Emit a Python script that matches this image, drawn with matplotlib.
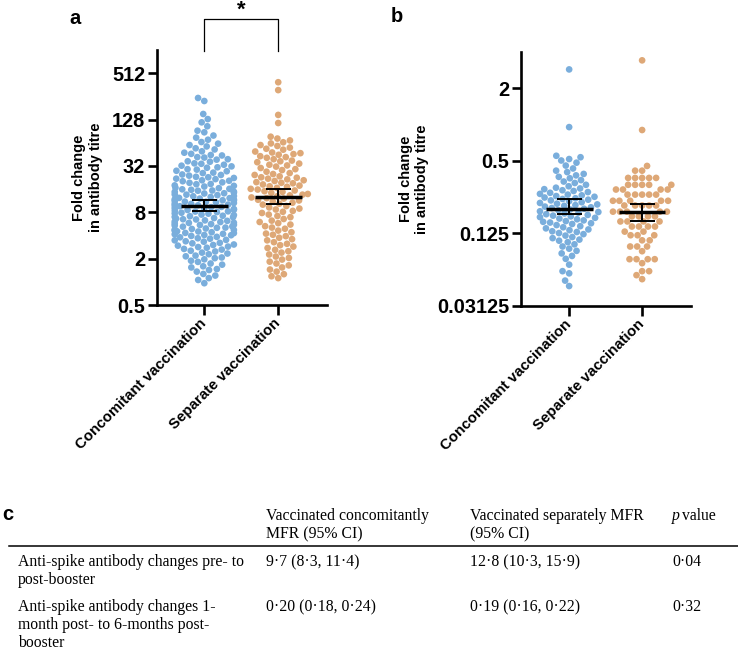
import numpy as np
import matplotlib
matplotlib.use("Agg")
import matplotlib.pyplot as plt
from matplotlib.lines import Line2D
import seaborn as sns

groups = ["Concomitant vaccination", "Separate vaccination"]
colors = ["#7AAEDC", "#DEA877"]

# fold change pre- to post-booster (panel a), log2 units
conc_pre_post_log2 = [
    7.93, 7.80, 7.24, 7.02, 6.88, 6.71, 6.52, 6.45, 6.31, 6.22, 6.13, 6.03,
    5.96, 5.90, 5.84, 5.76, 5.71, 5.63, 5.57, 5.52,
    5.47, 5.45, 5.38, 5.36, 5.29, 5.27, 5.20, 5.18, 5.11, 5.09, 5.05, 5.01,
    4.98, 4.94, 4.92, 4.86, 4.84, 4.79, 4.77, 4.71, 4.69, 4.63, 4.61, 4.58, 4.53, 4.51,
    4.48, 4.45, 4.43, 4.38, 4.36, 4.34, 4.29, 4.27, 4.22, 4.21, 4.16, 4.14, 4.11, 4.06, 4.04, 4.01,
    3.99, 3.97, 3.94, 3.93, 3.89, 3.88, 3.85, 3.82, 3.81, 3.77, 3.76, 3.74, 3.70, 3.69,
    3.66, 3.62, 3.61, 3.59, 3.56, 3.55, 3.52, 3.51,
    3.49, 3.46, 3.45, 3.43, 3.40, 3.37, 3.36, 3.33, 3.30, 3.29, 3.26, 3.23, 3.22, 3.18,
    3.17, 3.14, 3.11, 3.10, 3.07, 3.04, 3.03, 3.01,
    2.98, 2.95, 2.94, 2.90, 2.88, 2.85, 2.83, 2.80, 2.79, 2.75, 2.73, 2.70, 2.69, 2.65,
    2.63, 2.60, 2.58, 2.55, 2.54, 2.51,
    2.49, 2.46, 2.45, 2.43, 2.39, 2.38, 2.34, 2.33, 2.30, 2.28, 2.25, 2.24, 2.21, 2.18,
    2.17, 2.14, 2.11, 2.10, 2.07, 2.05, 2.02, 2.01,
    1.98, 1.94, 1.92, 1.88, 1.86, 1.81, 1.79, 1.75, 1.73, 1.68, 1.66, 1.61, 1.59, 1.56, 1.52, 1.50,
    1.47, 1.42, 1.39, 1.34, 1.31, 1.26, 1.22, 1.19, 1.13, 1.10, 1.05, 1.02,
    0.97, 0.91, 0.86, 0.79, 0.74, 0.67, 0.62, 0.55, 0.51,
    0.44, 0.34, 0.27, 0.16, 0.08, -0.06,
]
sep_pre_post_log2 = [
    8.61, 8.27, 7.20, 6.85, 6.26, 6.18, 6.10, 6.02,
    5.97, 5.90, 5.86, 5.79, 5.74, 5.70, 5.62, 5.58, 5.55, 5.51,
    5.48, 5.42, 5.38, 5.35, 5.29, 5.23, 5.20, 5.16, 5.10, 5.05, 5.02,
    4.97, 4.91, 4.86, 4.82, 4.75, 4.69, 4.65, 4.61, 4.55, 4.51,
    4.49, 4.45, 4.42, 4.38, 4.35, 4.30, 4.27, 4.25, 4.20, 4.15, 4.12, 4.10, 4.05, 4.01,
    3.98, 3.94, 3.91, 3.88, 3.84, 3.79, 3.76, 3.73, 3.69, 3.64, 3.61, 3.59, 3.54, 3.51,
    3.47, 3.41, 3.37, 3.33, 3.27, 3.21, 3.16, 3.12, 3.06, 3.02,
    2.97, 2.90, 2.84, 2.79, 2.71, 2.64, 2.58, 2.53,
    2.47, 2.40, 2.34, 2.29, 2.21, 2.14, 2.08, 2.03,
    1.97, 1.90, 1.84, 1.79, 1.71, 1.64, 1.58, 1.52,
    1.46, 1.38, 1.32, 1.26, 1.18, 1.09, 1.03,
    0.96, 0.87, 0.79, 0.71, 0.62, 0.53,
    0.44, 0.33, 0.24, 0.16,
]
# fold change 1 month to 6 months post-booster (panel b), log2 units
conc_1m_6m_log2 = [
    1.52, -0.07, -0.86, -0.90, -0.95, -0.99, -1.05, -1.13, -1.21,
    -1.27, -1.31, -1.36, -1.40, -1.44, -1.48, -1.53, -1.57, -1.61, -1.66, -1.70, -1.74,
    -1.76, -1.78, -1.81, -1.83, -1.86, -1.88, -1.91, -1.93, -1.95, -1.97, -1.99,
    -2.01, -2.03, -2.05, -2.07, -2.09, -2.11, -2.14, -2.16, -2.18, -2.20, -2.22, -2.24,
    -2.26, -2.28, -2.30, -2.32, -2.34, -2.36, -2.39, -2.41, -2.43, -2.45, -2.47, -2.49,
    -2.51, -2.53, -2.55, -2.57, -2.59, -2.61, -2.64, -2.66, -2.68, -2.70, -2.72, -2.74,
    -2.77, -2.80, -2.83, -2.86, -2.89, -2.91, -2.94, -2.96, -2.99,
    -3.02, -3.06, -3.10, -3.13, -3.17, -3.20, -3.24,
    -3.30, -3.36, -3.42, -3.48, -3.55, -3.62, -3.70, -3.86,
    -4.04, -4.10, -4.30, -4.45,
]
sep_1m_6m_log2 = [
    1.77, -0.15, -1.14, -1.27, -1.27,
    -1.47, -1.47, -1.47, -1.47, -1.47,
    -1.66, -1.66, -1.66, -1.66, -1.66,
    -1.79, -1.79, -1.79, -1.79,
    -1.93, -1.93, -1.93, -1.93, -1.93,
    -2.10, -2.10, -2.10, -2.10, -2.10,
    -2.23, -2.23, -2.23, -2.23, -2.23,
    -2.40, -2.40, -2.40, -2.40, -2.40,
    -2.53, -2.53, -2.53, -2.53,
    -2.67, -2.67, -2.67, -2.67,
    -2.81, -2.81, -2.81, -2.81,
    -2.95, -2.95, -3.05, -3.05, -3.05, -3.19, -3.19,
    -3.36, -3.36, -3.36, -3.49,
    -3.71, -3.71, -3.71, -3.71, -3.82,
    -4.04, -4.04, -4.15, -4.26,
]

# geometric mean fold rise with 95% CI (table c)
mfr_a = [9.7, 12.8]
ci_low_a = [8.3, 10.3]
ci_high_a = [11.4, 15.9]
mfr_b = [0.20, 0.19]
ci_low_b = [0.18, 0.16]
ci_high_b = [0.24, 0.22]

ticks_a = [0.5, 2, 8, 32, 128, 512]
tick_labels_a = ["0.5", "2", "8", "32", "128", "512"]
ticks_b = [0.03125, 0.125, 0.5, 2]
tick_labels_b = ["0.03125", "0.125", "0.5", "2"]

header_conc = "Vaccinated concomitantly\nMFR (95% CI)"
header_sep = "Vaccinated separately MFR\n(95% CI)"
row_labels = ["Anti-spike antibody changes pre- to\npost-booster",
              "Anti-spike antibody changes 1-\nmonth post- to 6-months post-\nbooster"]
col_conc = ["9·7 (8·3, 11·4)", "0·20 (0·18, 0·24)"]
col_sep = ["12·8 (10·3, 15·9)", "0·19 (0·16, 0·22)"]
col_p = ["0·04", "0·32"]

plt.rcParams["font.family"] = ["Liberation Sans", "DejaVu Sans"]

W, H = 738, 652
fig = plt.figure(figsize=(W / 100, H / 100), dpi=100)


def fx(x):
    return x / W


def fy(y):
    return 1 - y / H


def panel(ax, conc, sep, mfr, lo, hi, ylim, ticks, labels, xlim, label_x):
    vals = 2.0 ** np.concatenate([conc, sep])
    cats = [groups[0]] * len(conc) + [groups[1]] * len(sep)
    ax.set_yscale("log", base=2)
    sns.swarmplot(x=cats, y=vals, hue=cats, order=groups, hue_order=groups,
                  palette=colors, size=4.8, linewidth=0, legend=False,
                  ax=ax, zorder=1, warn_thresh=1)
    for i in range(2):
        ax.hlines(mfr[i], i - 0.32, i + 0.32, color="black", lw=2.5, zorder=5)
        ax.vlines(i, lo[i], hi[i], color="black", lw=1.4, zorder=5)
        ax.hlines([lo[i], hi[i]], i - 0.17, i + 0.17, color="black", lw=1.4, zorder=5)
    ax.set_ylim(*ylim)
    ax.set_xlim(*xlim)
    ax.set_yticks(ticks)
    ax.set_yticklabels(labels)
    ax.yaxis.set_minor_locator(matplotlib.ticker.NullLocator())
    ax.set_xticks([0, 1])
    ax.set_xticklabels(groups, rotation=45, ha="right", va="center",
                       rotation_mode="anchor", fontsize=10.8, fontweight="bold")
    for t in ax.get_yticklabels():
        t.set_fontweight("bold")
    ax.tick_params(axis="y", length=6.5, width=1.9, labelsize=14.3, pad=2)
    ax.tick_params(axis="x", length=7.5, width=1.9, pad=4)
    for s in ["top", "right"]:
        ax.spines[s].set_visible(False)
    for s in ["left", "bottom"]:
        ax.spines[s].set_linewidth(1.9)
    ax.set_ylabel("Fold change\nin antibody titre", fontsize=10.5,
                  fontweight="bold", linespacing=1.2)
    ax.yaxis.set_label_coords(label_x, 0.5)
    ax.set_xlabel("")


ax_a = fig.add_axes([fx(157), fy(305), 170 / W, 255 / H])
ax_b = fig.add_axes([fx(521), fy(306), 170 / W, 254 / H])

panel(ax_a, conc_pre_post_log2, sep_pre_post_log2, mfr_a, ci_low_a, ci_high_a,
      (0.5, 1024), ticks_a, tick_labels_a, (-0.64, 1.66), -0.32)
panel(ax_b, conc_1m_6m_log2, sep_1m_6m_log2, mfr_b, ci_low_b, ci_high_b,
      (0.03125, 4), ticks_b, tick_labels_b, (-0.66, 1.67), -0.54)

# significance bracket on panel a
tr = ax_a.get_xaxis_transform()
ax_a.plot([0, 0, 1, 1], [0.996, 1.122, 1.122, 0.996], color="black", lw=0.9,
          transform=tr, clip_on=False)
ax_a.text(0.5, 1.155, "*", transform=tr, ha="center", va="center",
          fontsize=16, fontweight="bold")

fig.text(fx(75), fy(18), "a", fontsize=14.5, fontweight="bold", ha="center", va="center")
fig.text(fx(397), fy(17), "b", fontsize=14.5, fontweight="bold", ha="center", va="center")
fig.text(fx(8), fy(515), "c", fontsize=14.5, fontweight="bold", ha="center", va="center")

# table c
serif = dict(family=["Liberation Serif", "DejaVu Serif"], fontsize=11.3)
lh = 18.0


def lines(x, y0, text, **kw):
    for k, line in enumerate(text.split("\n")):
        fig.text(fx(x), fy(y0 + k * lh), line, ha="left", va="baseline", **serif, **kw)


lines(266, 520, header_conc)
lines(470, 520, header_sep)
fig.text(fx(672), fy(520), "p", ha="left", va="baseline", style="italic", **serif)
fig.text(fx(682), fy(520), "value", ha="left", va="baseline", **serif)
fig.add_artist(Line2D([fx(9), 1.0], [fy(546), fy(546)], color="black", lw=1.1))

row_y = [566, 611]
for r in range(2):
    lines(18, row_y[r], row_labels[r])
    lines(266, row_y[r], col_conc[r])
    lines(470, row_y[r], col_sep[r])
    lines(672, row_y[r], col_p[r])

fig.savefig("out.png", dpi=100)
